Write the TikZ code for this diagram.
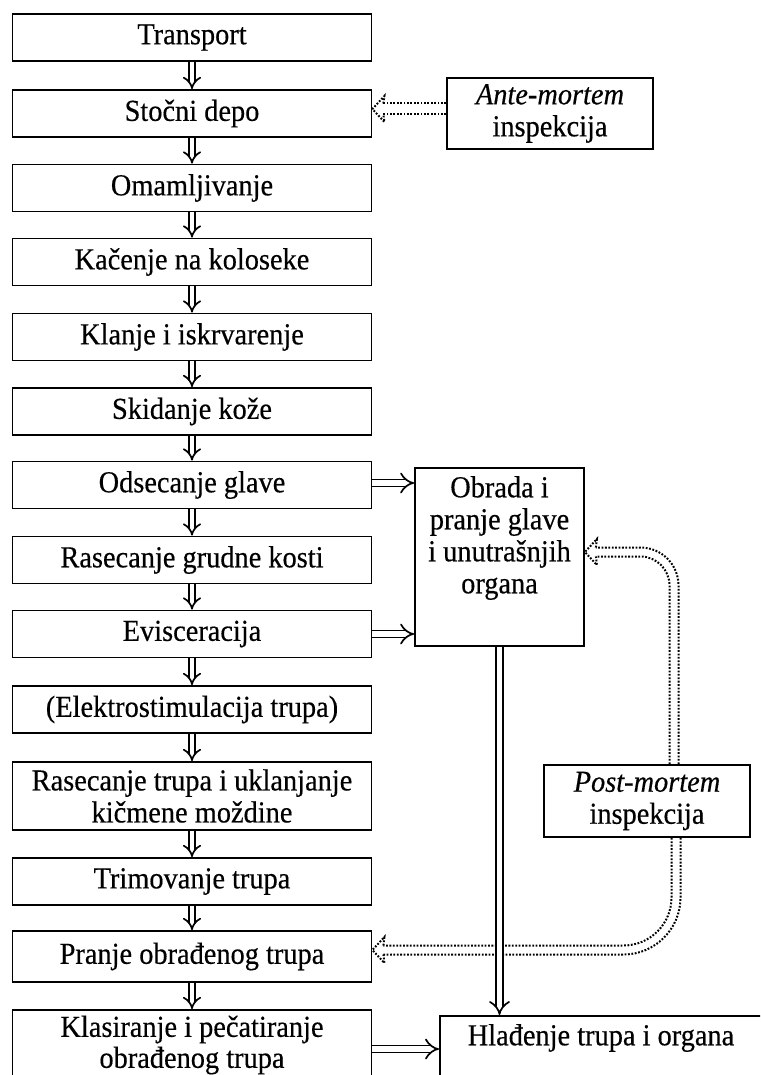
\documentclass[tikz,border=0pt]{standalone}
\usepackage{fontspec}
\setmainfont{Liberation Serif}[FakeStretch=0.93, FakeBold=0.4]
\usetikzlibrary{arrows.meta,calc}
\begin{document}
\begin{tikzpicture}[x=1pt,y=-1pt,
  txt/.style={font=\fontsize{30.5}{32}\selectfont, align=center, inner sep=0pt},
  box/.style={txt, draw, line width=1.8pt, minimum width=359pt, minimum height=47pt},
  frame/.style={draw, line width=1.8pt, inner sep=0pt},
  vdbl/.style={double, double distance=4.5pt, line width=1.7pt, -{Implies[scale=1.15]}},
  hdbl/.style={double, double distance=5.5pt, line width=1.7pt, -{Implies[scale=1.1]}},
  dotline/.style={line width=2pt, dash pattern=on 1.8pt off 1.6pt}]
\useasboundingbox (0,0) rectangle (760,1075);
\clip (0,0) rectangle (760,1075);
% left column
\node[box] (transport) at (192,37.5) {Transport};
\node[box] (depo) at (192,113.5) {Stočni depo};
\node[box] (omam) at (192,188) {Omamljivanje};
\node[box] (kacenje) at (192,262) {Kačenje na koloseke};
\node[box] (klanje) at (192,337) {Klanje i iskrvarenje};
\node[box] (skidanje) at (192,411.5) {Skidanje kože};
\node[box] (odsec) at (192,485) {Odsecanje glave};
\node[box] (grudne) at (192,560) {Rasecanje grudne kosti};
\node[box] (evisc) at (192,634) {Evisceracija};
\node[box] (elektro) at (192,709.5) {(Elektrostimulacija trupa)};
\node[box, minimum height=68pt] (rasec) at (192,796) {Rasecanje trupa i uklanjanje\\kičmene moždine};
\node[box] (trim) at (192,881.5) {Trimovanje trupa};
\node[box, minimum height=51pt] (pranje) at (192,956.5) {Pranje obrađenog trupa};
\node[box, minimum height=70pt, font=\fontsize{30.5}{31}\selectfont] (klas) at (192,1045) {Klasiranje i pečatiranje\\obrađenog trupa};
% right side
\node[txt, frame, minimum width=206pt, minimum height=71pt] (ante) at (550,113.5) {\textit{Ante-mortem}\\inspekcija};
\node[frame, minimum width=169pt, minimum height=178pt] (obrada) at (499.5,557) {};
\node[txt] (obradatxt) at (499.5,538) {Obrada i\\pranje glave\\i unutrašnjih\\organa};
\node[txt, frame, minimum width=206pt, minimum height=72pt] (pm) at (647,801) {\textit{Post-mortem}\\inspekcija};
\node[frame, minimum width=324pt, minimum height=80pt, anchor=north west] (hlad) at (439,1015) {};
\node[txt] (hladtxt) at (601,1038) {Hlađenje trupa i organa};
% vertical flow arrows
\foreach \a/\b in {transport/depo, depo/omam, omam/kacenje, kacenje/klanje, klanje/skidanje, skidanje/odsec, odsec/grudne, grudne/evisc, evisc/elektro, elektro/rasec, rasec/trim, trim/pranje, pranje/klas}
  \draw[vdbl] (\a.south) -- (\b.north);
% horizontal arrows
\draw[hdbl] ([yshift=2pt]odsec.east) -- ([yshift=2pt]odsec.east -| obrada.west);
\draw[hdbl] (evisc.east) -- (evisc.east -| obrada.west);
\draw[hdbl] ([yshift=-4pt]klas.east) -- ([yshift=-4pt]klas.east -| hlad.west);
% dotted double arrows (all point left)
\coordinate (pa) at ([yshift=4.5pt]depo.east);
\coordinate (pb) at ([yshift=5pt]obrada.east);
\coordinate (pc) at ([yshift=6.5pt]pranje.east);
\draw[dotline] ($(ante.west |- pa)+(0,-5.5)$) -- ($(pa)+(11,-5.5)$);
\draw[dotline] ($(ante.west |- pa)+(0,5.5)$) -- ($(pa)+(11,5.5)$);
% upper (to Obrada)
\draw[dotline, rounded corners=38pt] ($(pm.north)+(31.5,0)$) |- ($(pb)+(11,-4.5)$);
\draw[dotline, rounded corners=29pt] ($(pm.north)+(22.5,0)$) |- ($(pb)+(11,4.5)$);
% lower (to Pranje)
\draw[dotline, rounded corners=48pt] ($(pm.south)+(24.5,0)$) |- ($(pc)+(11,-4.5)$);
\draw[dotline, rounded corners=57pt] ($(pm.south)+(33.5,0)$) |- ($(pc)+(11,4.5)$);
% dotted heads
\foreach \p/\h in {pa/5.5,pb/4.5,pc/4.5}
  \draw[dotline] ($(\p)+(11,-\h)$) -- ($(\p)+(12,-13)$) -- (\p) -- ($(\p)+(12,13)$) -- ($(\p)+(11,\h)$);
% vertical to cooling (drawn over dotted line)
\draw[hdbl] (obrada.south) -- (obrada.south |- hlad.north);
\end{tikzpicture}
\end{document}
